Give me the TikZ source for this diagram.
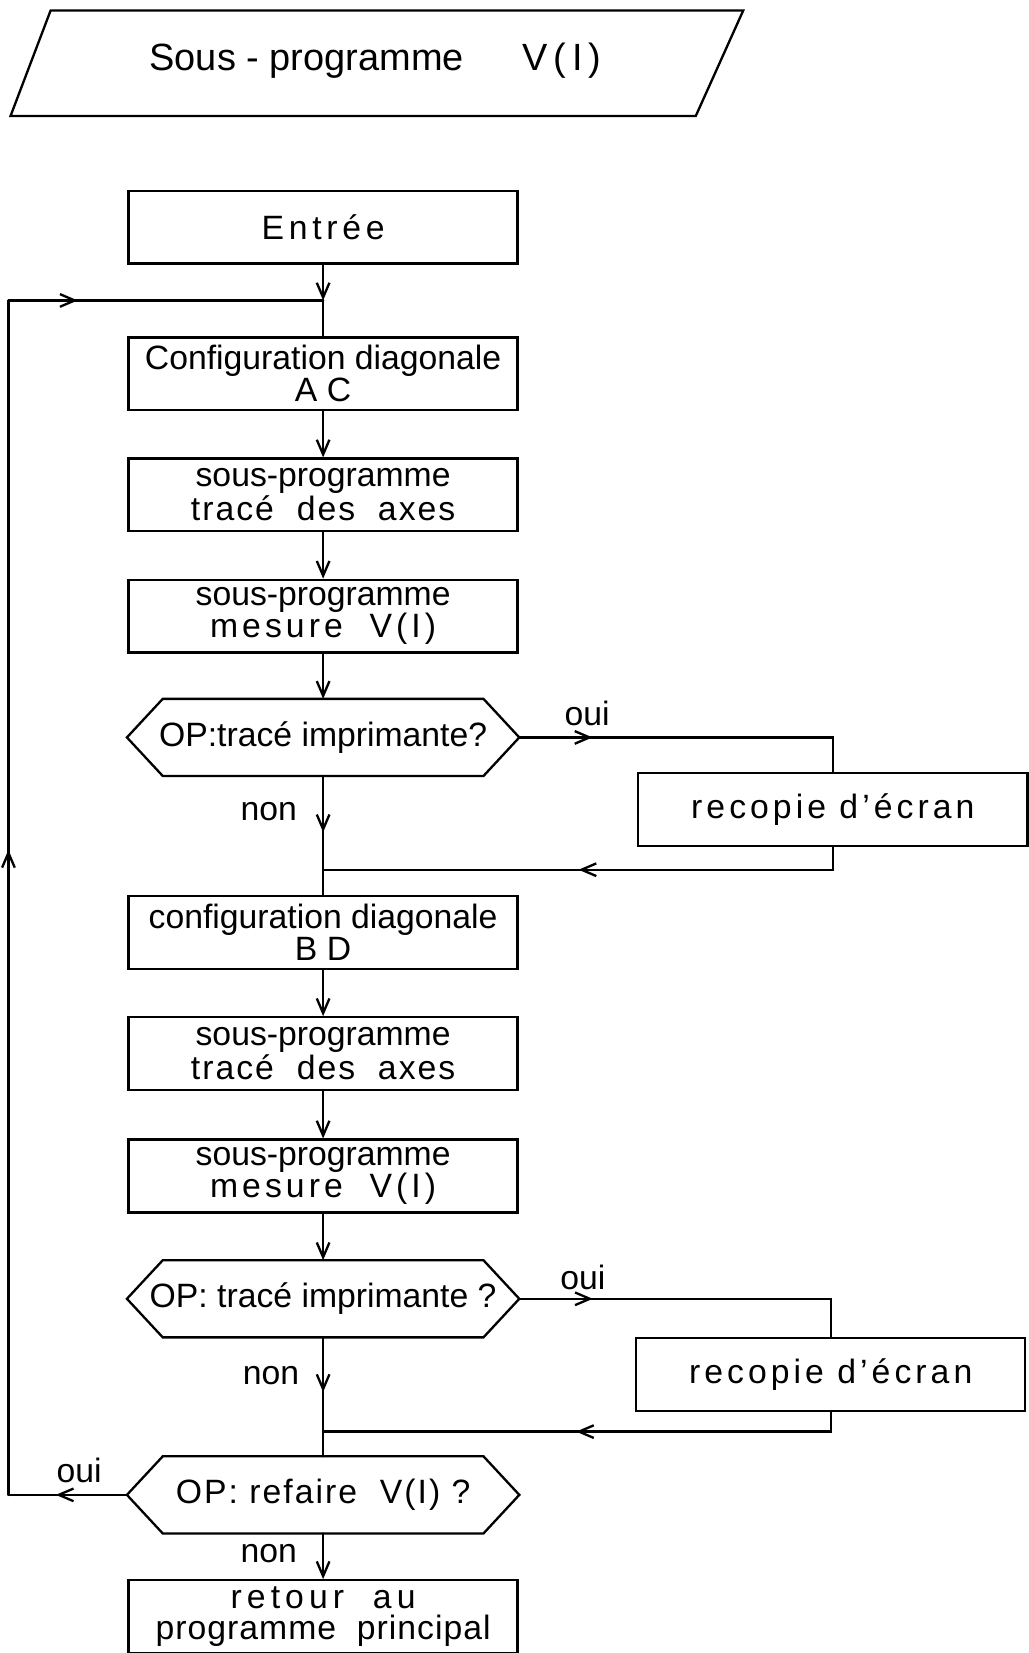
\documentclass[tikz,border=0pt]{standalone}
\usepackage{fontspec}
\setmainfont{Liberation Sans}
\usetikzlibrary{arrows.meta, decorations.markings}

\tikzset{
  boite/.style={draw, minimum width=184.5pt, minimum height=34.5pt, align=center, inner sep=0pt},
  test/.style={minimum width=185pt, minimum height=35.5pt, align=center, inner sep=0pt},
  fleche/.style={-{Straight Barb[length=7pt,width=6pt]}},
  milieu/.style={postaction={decorate}, decoration={markings,
      mark=at position #1 with {\arrow{Straight Barb[length=7pt,width=6pt]}}}}
}

% contour hexagonal autour d'un noeud de test
\newcommand{\hexagone}[1]{%
  \draw (#1.west) -- ([xshift=17pt]#1.north west) -- ([xshift=-17pt]#1.north east)
    -- (#1.east) -- ([xshift=-17pt]#1.south east) -- ([xshift=17pt]#1.south west) -- cycle;}
% texte espace
\newcommand{\ecarte}[2]{{\addfontfeature{LetterSpace=#1}#2}}

\begin{document}
\begin{tikzpicture}[x=0.5pt, y=-0.5pt, line width=1.1pt, line cap=round,
    font=\fontsize{16}{15}\selectfont]
\useasboundingbox (0,0) rectangle (976,1568);

% Titre
\draw (48,10) -- (705,10) -- (660,110) -- (10,110) -- cycle;
\node[font=\fontsize{18}{20}\selectfont] (titre) at (356,58)
  {Sous - programme\hspace{28pt}\ecarte{15}{V(I)}};

% Premiere diagonale
\node[boite] (entree) at (306.5,215.5) {\ecarte{14}{Entrée}};
\node[boite] (diagAC) at (306.5,354.5) {Configuration diagonale\\A C};
\node[boite] (axes1) at (306.5,469.5) {sous-programme\\\ecarte{6}{tracé\ \ des\ \ axes}};
\node[boite] (mes1) at (306.5,584.5) {sous-programme\\\ecarte{12}{mesure\ \ V(I)}};
\node[test] (test1) at (306.5,699.5) {OP:tracé imprimante?};
\hexagone{test1}
\node[boite] (recop1) at (790,768) {\ecarte{12}{recopie d’écran}};

% Seconde diagonale
\node[boite] (diagBD) at (306.5,884.5) {configuration diagonale\\B D};
\node[boite] (axes2) at (306.5,999.5) {sous-programme\\\ecarte{6}{tracé\ \ des\ \ axes}};
\node[boite] (mes2) at (306.5,1115.5) {sous-programme\\\ecarte{12}{mesure\ \ V(I)}};
\node[test] (test2) at (306.5,1232) {OP: tracé imprimante ?};
\hexagone{test2}
\node[boite] (recop2) at (788,1304) {\ecarte{12}{recopie d’écran}};

% Fin
\node[test] (test3) at (306.5,1418) {\ecarte{6}{OP: refaire\ \ V(I) ?}};
\hexagone{test3}
\node[boite] (retour) at (306.5,1533.5) {\ecarte{15}{retour\ \ au}\\\ecarte{3}{programme\ \ principal}};

% Points de jonction
\coordinate (j0) at (306.5,285);
\coordinate (j1) at (306.5,825);
\coordinate (j2) at (306.5,1358);
\coordinate (g0) at (8,285);
\coordinate (g1) at (8,1418);

% Liaisons
\draw[fleche] (entree) -- (j0);
\draw (j0) -- (diagAC);
\draw[fleche] (diagAC) -- (axes1);
\draw[fleche] (axes1) -- (mes1);
\draw[fleche] (mes1) -- (test1.north);
\draw[milieu=0.21] (test1.east) -| (recop1.north);
\draw[milieu=0.52] (recop1.south) |- (j1);
\draw[milieu=0.6] (test1.south) -- (j1);
\draw (j1) -- (diagBD);

\draw[fleche] (diagBD) -- (axes2);
\draw[fleche] (axes2) -- (mes2);
\draw[fleche] (mes2) -- (test2.north);
\draw[milieu=0.21] (test2.east) -| (recop2.north);
\draw[milieu=0.52] (recop2.south) |- (j2);
\draw[milieu=0.58] (test2.south) -- (j2);
\draw (j2) -- (test3.north);

\draw[fleche] (test3.south) -- (retour);

% Boucle de retour
\draw[milieu=0.6] (test3.west) -- (g1);
\draw[milieu=0.54] (g1) -- (g0);
\draw[milieu=0.22] (g0) -- (j0);

% Etiquettes
\node (oui1) at (557,677) {oui};
\node (non1) at (255,770) {non};
\node (oui2) at (553,1212) {oui};
\node (non2) at (257,1305) {non};
\node (oui3) at (75,1395) {oui};
\node (non3) at (255,1474) {non};

\end{tikzpicture}
\end{document}
